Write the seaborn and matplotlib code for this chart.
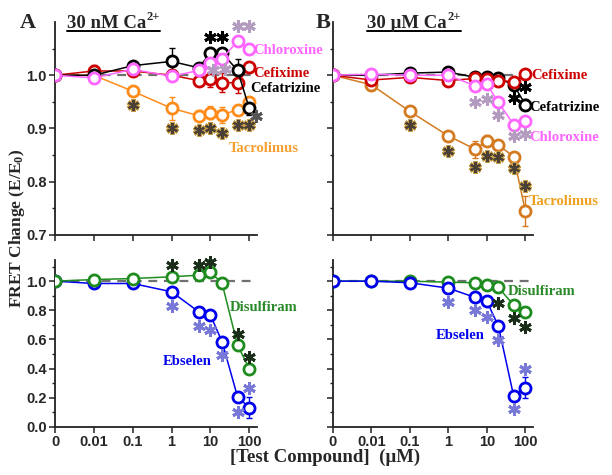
import numpy as np
import matplotlib
matplotlib.use('Agg')
import matplotlib.pyplot as plt
import seaborn as sns
from matplotlib.lines import Line2D

# concentrations (uM); 0 is drawn one decade below 0.01
conc = [0, 0.01, 0.1, 1, 5, 10, 20, 50, 100]
tick_vals = [0, 0.01, 0.1, 1, 10, 100]
tick_labels = ['0', '0.01', '0.1', '1', '10', '100']

# A: 30 nM Ca2+
a_tacro = [1.0, 1.0, 0.970, 0.938, 0.924, 0.930, 0.926, 0.935, 0.949]
a_tacro_err = [0, 0, 0.005, 0.022, 0.01, 0.012, 0.015, 0.005, 0.005]
a_cefat = [1.0, 1.0, 1.018, 1.026, 1.014, 1.042, 1.042, 1.009, 0.938]
a_cefat_err = [0, 0, 0.004, 0.025, 0.005, 0.01, 0.01, 0.022, 0.012]
a_cefix = [1.0, 1.008, 1.008, 1.0, 0.990, 0.992, 0.986, 0.986, 1.016]
a_cefix_err = [0, 0.012, 0.01, 0.01, 0.01, 0.015, 0.018, 0.02, 0.005]
a_chlor = [1.0, 0.995, 1.011, 0.998, 1.009, 1.023, 1.031, 1.064, 1.050]
a_chlor_err = [0, 0.01, 0.005, 0.005, 0.005, 0.005, 0.005, 0.006, 0.004]
a_disul = [1.0, 1.011, 1.018, 1.030, 1.041, 1.064, 0.984, 0.561, 0.400]
a_disul_err = [0, 0.01, 0.01, 0.01, 0.01, 0.01, 0.01, 0.02, 0.02]
a_ebsel = [1.0, 0.984, 0.984, 0.927, 0.790, 0.767, 0.584, 0.206, 0.133]
a_ebsel_err = [0, 0.01, 0.01, 0.01, 0.01, 0.015, 0.02, 0.03, 0.07]

# B: 30 uM Ca2+
b_tacro = [1.0, 0.982, 0.932, 0.886, 0.861, 0.877, 0.869, 0.847, 0.745]
b_tacro_err = [0, 0.01, 0.005, 0.008, 0.016, 0.01, 0.006, 0.006, 0.028]
b_cefat = [1.0, 1.0, 1.004, 1.006, 0.996, 0.996, 0.994, 0.982, 0.945]
b_cefat_err = [0, 0.003, 0.003, 0.003, 0.003, 0.003, 0.003, 0.005, 0.01]
b_cefix = [1.0, 0.991, 0.996, 0.990, 0.994, 0.993, 0.990, 0.988, 1.002]
b_cefix_err = [0, 0.005, 0.005, 0.008, 0.006, 0.01, 0.008, 0.006, 0.004]
b_chlor = [1.0, 1.002, 1.0, 1.0, 0.980, 0.983, 0.949, 0.907, 0.914]
b_chlor_err = [0, 0.003, 0.003, 0.003, 0.006, 0.006, 0.004, 0.004, 0.005]
b_disul = [1.0, 1.0, 1.0, 0.993, 0.989, 0.973, 0.957, 0.835, 0.790]
b_disul_err = [0, 0.005, 0.005, 0.005, 0.005, 0.008, 0.008, 0.01, 0.01]
b_ebsel = [1.0, 1.0, 0.989, 0.952, 0.888, 0.863, 0.691, 0.210, 0.270]
b_ebsel_err = [0, 0.005, 0.005, 0.01, 0.01, 0.01, 0.01, 0.01, 0.07]

# significance asterisks (conc, y)
a_tacro_sig = ([0.1, 1, 5, 10, 20, 50, 100], [0.945, 0.901, 0.897, 0.901, 0.891, 0.907, 0.906])
a_cefat_sig = ([10, 20], [1.072, 1.072])
a_cefat_sig2 = ([150], [0.923])
a_chlor_sig = ([12, 24, 50, 100], [1.010, 1.012, 1.092, 1.092])
b_tacro_sig = ([0.1, 1, 5, 10, 20, 50, 100], [0.907, 0.858, 0.827, 0.848, 0.846, 0.825, 0.792])
b_cefat_sig = ([50, 100], [0.958, 0.978])
b_chlor_sig = ([5, 10, 20, 50, 100], [0.949, 0.955, 0.926, 0.886, 0.889])
a_disul_sig = ([1, 5, 10, 50, 100], [1.11, 1.11, 1.133, 0.64, 0.48])
a_ebsel_sig = ([1, 5, 10, 20, 50, 100], [0.828, 0.691, 0.664, 0.492, 0.103, 0.27])
b_disul_sig = ([20, 50, 100], [0.851, 0.744, 0.686])
b_ebsel_sig = ([1, 5, 10, 20, 50, 100], [0.858, 0.80, 0.755, 0.595, 0.126, 0.40])

sns.set_style('ticks')
plt.rcParams['font.family'] = ['Liberation Serif', 'DejaVu Serif']
plt.rcParams['mathtext.fontset'] = 'custom'
plt.rcParams['mathtext.rm'] = 'Liberation Serif:bold'
plt.rcParams['mathtext.it'] = 'Liberation Serif:bold'
plt.rcParams['mathtext.bf'] = 'Liberation Serif:bold'


def xpos(v):
    v = np.asarray(v, dtype=float)
    return np.where(v == 0, 1e-3, v)


def draw_series(ax, y, err, color, z=3):
    x = xpos(conc)
    ax.errorbar(x, y, yerr=err, fmt='none', ecolor=color, elinewidth=1,
                capsize=2.5, capthick=1, zorder=z - 0.5)
    sns.lineplot(x=x, y=y, ax=ax, color=color, lw=1.1, marker='o',
                 markersize=8, markerfacecolor='white', markeredgecolor=color,
                 markeredgewidth=2.0, zorder=z)


def draw_sig(ax, sig, color, gold=False):
    x, y = sig
    if gold:
        ax.plot(xpos(x), y, ls='none', marker=(6, 2, 0), ms=9, mew=3.4,
                color='#c9a04a', zorder=5, clip_on=False)
        ax.plot(xpos(x), y, ls='none', marker=(6, 2, 0), ms=8, mew=1.5,
                color='#4a4035', zorder=6, clip_on=False)
    else:
        ax.plot(xpos(x), y, ls='none', marker=(6, 2, 0), ms=9, mew=2.1,
                color=color, zorder=5, clip_on=False)


def style_axis(ax, top, labelled_y):
    ax.set_xscale('log')
    ax.set_xlim(1e-3, 10 ** 2.2)
    ax.set_xticks(xpos(tick_vals))
    ax.xaxis.set_minor_locator(matplotlib.ticker.NullLocator())
    if top:
        ax.set_ylim(0.7, 1.1)
        ax.set_yticks([0.7, 0.8, 0.9, 1.0])
        ax.set_yticks([0.75, 0.85, 0.95, 1.05], minor=True)
        ylabs = ['0.7', '0.8', '0.9', '1.0']
        ax.set_xticklabels([])
    else:
        ax.set_ylim(0, 1.145)
        ax.set_yticks([0, 0.2, 0.4, 0.6, 0.8, 1.0])
        ax.set_yticks([0.1, 0.3, 0.5, 0.7, 0.9, 1.1], minor=True)
        ylabs = ['0.0', '0.2', '0.4', '0.6', '0.8', '1.0']
        ax.set_xticklabels(tick_labels, fontfamily='Liberation Sans',
                           fontweight='bold', fontsize=10.5)
    if labelled_y:
        ax.set_yticklabels(ylabs, fontfamily='Liberation Sans',
                           fontweight='bold', fontsize=10.5)
    else:
        ax.set_yticklabels([])
    ax.axhline(1.0, color='#707070', ls=(0, (4, 3)), lw=1.6, zorder=1)
    sns.despine(ax=ax)
    for s in ['left', 'bottom']:
        ax.spines[s].set_linewidth(1.3)
        ax.spines[s].set_color('#222222')
    ax.tick_params(which='major', length=4, width=1.1, color='#222222', pad=2)
    ax.tick_params(which='minor', length=2.5, width=1.0, color='#222222')
    ax.set_facecolor('white')


fig = plt.figure(figsize=(6.12, 4.75), dpi=100)
axA = fig.add_axes([0.0899, 0.5053, 0.3301, 0.4484])
axB = fig.add_axes([0.5441, 0.5053, 0.3268, 0.4484])
axC = fig.add_axes([0.0899, 0.1011, 0.3301, 0.3515])
axD = fig.add_axes([0.5441, 0.1011, 0.3268, 0.3515])

orange = '#ff8c1a'
orange_b = '#d47a20'
violet = '#ff66ff'
red = '#cc0000'
green = '#1f8c1f'
blue = '#0000ee'
lab_kw = dict(fontsize=10.5, fontweight='bold', va='center', clip_on=False)

# panel A top
style_axis(axA, True, True)
draw_series(axA, a_tacro, a_tacro_err, orange, 3)
draw_series(axA, a_cefix, a_cefix_err, red, 3.2)
draw_series(axA, a_cefat, a_cefat_err, 'black', 3.4)
draw_series(axA, a_chlor, a_chlor_err, violet, 3.6)
draw_sig(axA, a_tacro_sig, None, gold=True)
draw_sig(axA, a_cefat_sig, 'black')
draw_sig(axA, a_cefat_sig2, '#555555')
draw_sig(axA, a_chlor_sig, '#b49cc0')
axA.text(126, 1.046, 'Chloroxine', color=violet, **lab_kw)
axA.text(130, 1.004, 'Cefixime', color=red, **lab_kw)
axA.text(107, 0.976, 'Cefatrizine', color='black', **lab_kw)
axA.text(29, 0.863, 'Tacrolimus', color='#f5a030', **lab_kw)

# panel B top
style_axis(axB, True, False)
draw_series(axB, b_tacro, b_tacro_err, orange_b, 3)
draw_series(axB, b_cefat, b_cefat_err, 'black', 3.2)
draw_series(axB, b_cefix, b_cefix_err, red, 3.4)
draw_series(axB, b_chlor, b_chlor_err, violet, 3.6)
draw_sig(axB, b_tacro_sig, None, gold=True)
draw_sig(axB, b_cefat_sig, 'black')
draw_sig(axB, b_chlor_sig, '#b49cc0')
axB.text(141, 1.0, 'Cefixime', color=red, **lab_kw)
axB.text(126, 0.939, 'Cefatrizine', color='black', **lab_kw)
axB.text(130, 0.883, 'Chloroxine', color=violet, **lab_kw)
axB.text(120, 0.763, 'Tacrolimus', color='#f0a020', **lab_kw)

# panel A bottom
style_axis(axC, False, True)
draw_series(axC, a_disul, a_disul_err, green, 3.2)
draw_series(axC, a_ebsel, a_ebsel_err, blue, 3)
draw_sig(axC, a_disul_sig, '#1a2e1a')
draw_sig(axC, a_ebsel_sig, '#7878d8')
axC.text(32, 0.82, 'Disulfiram', color='#2a8a2a', **lab_kw)
axC.text(0.59, 0.446, 'Ebselen', color=blue, **lab_kw)

# panel B bottom
style_axis(axD, False, False)
draw_series(axD, b_disul, b_disul_err, green, 3)
draw_series(axD, b_ebsel, b_ebsel_err, blue, 3.2)
draw_sig(axD, b_disul_sig, '#1a2e1a')
draw_sig(axD, b_ebsel_sig, '#7878d8')
axD.text(35, 0.927, 'Disulfiram', color='#2a8a2a', **lab_kw)
axD.text(0.48, 0.63, 'Ebselen', color=blue, **lab_kw)

# figure texts
fig.text(0.027, 0.52, 'FRET Change (E/E$_0$)', rotation=90, ha='center',
         va='center', fontsize=12.5, fontweight='bold')
fig.text(0.531, 0.038, '[Test Compound]  (\u00b5M)', ha='center', va='center',
         fontsize=13.5, fontweight='bold')
fig.text(0.032, 0.941, 'A', fontsize=16, fontweight='bold', va='baseline')
fig.text(0.515, 0.941, 'B', fontsize=16, fontweight='bold', va='baseline')
t1 = fig.text(0.109, 0.941, '30 nM Ca', fontsize=13.5, fontweight='bold',
              va='baseline')
t2 = fig.text(0.5997, 0.941, '30 \u00b5M Ca', fontsize=13.5,
              fontweight='bold', va='baseline')

fig.canvas.draw()
inv = fig.transFigure.inverted()
for t in (t1, t2):
    bb = t.get_window_extent()
    x0, y0 = inv.transform([bb.x0, bb.y0])
    x1, _ = inv.transform([bb.x1, bb.y1])
    sup = fig.text(x1 + 0.001, 0.941 + 0.016, '2+', fontsize=9,
                   fontweight='bold', va='baseline')
    fig.canvas.draw()
    sb = sup.get_window_extent()
    xs1, _ = inv.transform([sb.x1, sb.y1])
    fig.add_artist(Line2D([x0, xs1], [0.935, 0.935], color='black', lw=1.4))

fig.savefig('out.png', dpi=100, facecolor='white')
